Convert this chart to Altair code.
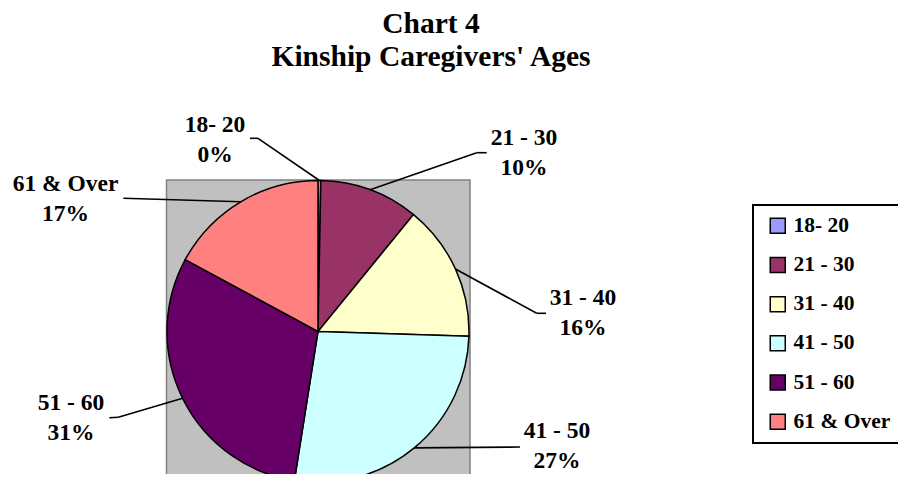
import altair as alt
import pandas as pd

# ---- data ----
categories = ["18- 20", "21 - 30", "31 - 40", "41 - 50", "51 - 60", "61 & Over"]
shares = [0.3, 10.6, 14.6, 27.0, 30.4, 17.1]
pct_labels = ["0%", "10%", "16%", "27%", "31%", "17%"]
colors = ["#9999FF", "#993366", "#FFFFCC", "#CCFFFF", "#660066", "#FF8080"]

# ---- layout (view pixels) ----
W, H = 890, 388
PAD_TOP = 78
CX, CY, R = 310, 245.5, 151
FONT = "Liberation Serif"

# label anchors (text centre / first baseline) and leader-line elbows and tails
label_x = [207, 516, 575, 549, 63, 57.5]
label_y = [45.7, 59, 219, 352, 324, 104.7]
elbow_x = [250, 468.7, 528.7, 512, 110.3, 115.3]
elbow_y = [52.3, 66.7, 227.3, 361, 331.3, 112.3]
tail_x = [242, 478.7, 538, 512, 101.3, 115.3]
tail_y = [52.3, 66.7, 227.3, 361, 331.7, 112.3]

df = pd.DataFrame({
    "idx": list(range(len(categories))),
    "cat": categories,
    "share": shares,
    "label": [c + "\n" + p for c, p in zip(categories, pct_labels)],
    "lx": label_x, "ly": label_y,
    "ex": elbow_x, "ey": elbow_y,
    "tx": tail_x, "ty": tail_y,
})

base = alt.Chart(df)

backdrop = alt.Chart(pd.DataFrame({"k": [0]})).mark_rect(
    fill="#C0C0C0", stroke="#808080", strokeWidth=1.5
).encode(
    x=alt.value(CX - R - 0.5), x2=alt.value(CX + R + 1),
    y=alt.value(CY - R - 0.5), y2=alt.value(CY + R + 40),
)

pie = base.mark_arc(outerRadius=R, stroke="black", strokeWidth=1.5).encode(
    theta=alt.Theta("share:Q", stack=True),
    color=alt.Color(
        "cat:N",
        sort=categories,
        scale=alt.Scale(domain=categories, range=colors),
        legend=alt.Legend(
            title=None, orient="none", legendX=745, legendY=119,
            symbolType="square", symbolSize=225,
            symbolStrokeColor="black", symbolStrokeWidth=1.5,
            labelFont=FONT, labelFontSize=21.5, labelFontWeight="bold",
            labelColor="black", strokeColor="black", padding=10,
            rowPadding=16.2, labelOffset=5, symbolOffset=4,
        ),
    ),
    order=alt.Order("idx:Q", sort="ascending"),
    x=alt.value(CX), y=alt.value(CY),
)

leader = base.transform_joinaggregate(total="sum(share)").transform_window(
    cum="sum(share)", sort=[alt.SortField("idx", order="ascending")], frame=[None, 0]
).transform_calculate(
    mid="(datum.cum - datum.share / 2) / datum.total * 2 * PI",
).transform_calculate(
    sx=f"{CX} + {R} * sin(datum.mid)",
    sy=f"{CY} - {R} * cos(datum.mid)",
).mark_rule(color="black", strokeWidth=1.6).encode(
    x=alt.X("sx:Q", scale=None, axis=None),
    y=alt.Y("sy:Q", scale=None, axis=None),
    x2="ex:Q", y2="ey:Q",
)

tail = base.mark_rule(color="black", strokeWidth=1.6).encode(
    x=alt.X("ex:Q", scale=None, axis=None),
    y=alt.Y("ey:Q", scale=None, axis=None),
    x2="tx:Q", y2="ty:Q",
)

labels = base.mark_text(
    font=FONT, fontSize=23.5, fontWeight="bold", color="black",
    align="center", baseline="alphabetic", lineBreak="\n", lineHeight=30,
).encode(
    x=alt.X("lx:Q", scale=None, axis=None),
    y=alt.Y("ly:Q", scale=None, axis=None),
    text="label:N",
)

chart = alt.layer(backdrop, pie, leader, tail, labels).properties(
    width=W, height=H,
    autosize=alt.AutoSizeParams(type="none"),
    padding={"left": 0, "top": PAD_TOP, "right": 0, "bottom": 0},
    title=alt.TitleParams(
        text=["Chart 4", "Kinship Caregivers' Ages"],
        font=FONT, fontSize=29.5, fontWeight="bold", color="black",
        anchor="middle", frame="group", dx=-22, lineHeight=33, offset=14,
    ),
).configure_view(stroke=None).configure_legend(strokeWidth=2)

chart.save("out.html", embed_options={"renderer": "svg", "actions": False})
